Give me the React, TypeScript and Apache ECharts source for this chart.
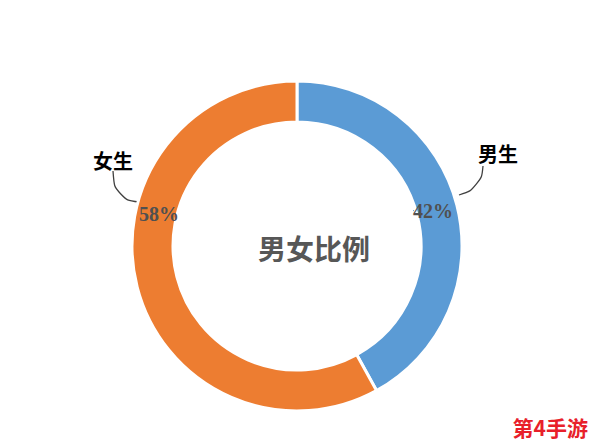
import { useEffect, useRef } from 'react'
import * as echarts from 'echarts'

const categories = ['男生', '女生']
const values = [42, 58]
const colors = ['#5b9bd5', '#ed7d31']
const chartTitle = '男女比例'
const watermark = '第4手游'

// label placement (percent on the ring, names outside with curved leaders)
const percentPos = [
  [433, 211],
  [159, 214]
]
const namePos = [
  [498, 153],
  [113, 160]
]
const leaderPoints = [
  [[459, 195], [481, 188], [483, 166]],
  [[139, 202], [115, 199], [113, 171]]
]

export default function App(): JSX.Element {
  const chartRef = useRef<HTMLDivElement>(null)

  useEffect(() => {
    if (!chartRef.current) return
    document.body.style.margin = '0'
    const chart = echarts.init(chartRef.current, null, { renderer: 'svg' })

    const data = categories.map((name, i) => ({ name, value: values[i] }))

    const option: echarts.EChartsOption = {
      animation: false,
      backgroundColor: '#ffffff',
      color: colors,
      title: {
        text: chartTitle,
        left: 253,
        top: 229,
        textStyle: {
          fontSize: 28,
          fontWeight: 'bold',
          color: '#575757',
          fontFamily: 'Noto Sans CJK SC'
        }
      },
      graphic: [
        {
          type: 'text',
          right: 6,
          bottom: 6,
          style: {
            text: watermark,
            fontSize: 21,
            fontWeight: 'bold',
            fill: '#e8202a',
            fontFamily: 'Noto Sans CJK SC'
          }
        }
      ],
      series: [
        {
          // visible ring with percentages on it
          type: 'pie',
          center: [297, 246],
          radius: [124, 165],
          startAngle: 90,
          data,
          itemStyle: { borderColor: '#ffffff', borderWidth: 3 },
          label: {
            position: 'inside',
            formatter: '{d}%',
            fontFamily: 'Liberation Serif',
            fontWeight: 'bold',
            fontSize: 20,
            color: '#505050'
          },
          labelLayout: (p: any) => ({
            x: percentPos[p.dataIndex][0],
            y: percentPos[p.dataIndex][1],
            align: 'center',
            verticalAlign: 'middle'
          }),
          emphasis: { disabled: true }
        },
        {
          // transparent overlay carrying the name labels and leader lines
          type: 'pie',
          center: [297, 246],
          radius: [124, 165],
          startAngle: 90,
          silent: true,
          data,
          itemStyle: { color: 'transparent', borderWidth: 0 },
          label: {
            position: 'outside',
            formatter: '{b}',
            fontFamily: 'Noto Sans CJK SC',
            fontWeight: 'bold',
            fontSize: 20,
            color: '#000000'
          },
          labelLine: {
            show: true,
            length: 8,
            length2: 14,
            smooth: 0.5,
            lineStyle: { color: '#404040', width: 1.3 }
          },
          labelLayout: (p: any) => ({
            x: namePos[p.dataIndex][0],
            y: namePos[p.dataIndex][1],
            align: 'center',
            verticalAlign: 'middle',
            labelLinePoints: leaderPoints[p.dataIndex]
          }),
          emphasis: { disabled: true }
        }
      ]
    }

    chart.setOption(option)
    return () => {
      chart.dispose()
    }
  }, [])

  return <div ref={chartRef} style={{ width: 594, height: 443 }} />
}
